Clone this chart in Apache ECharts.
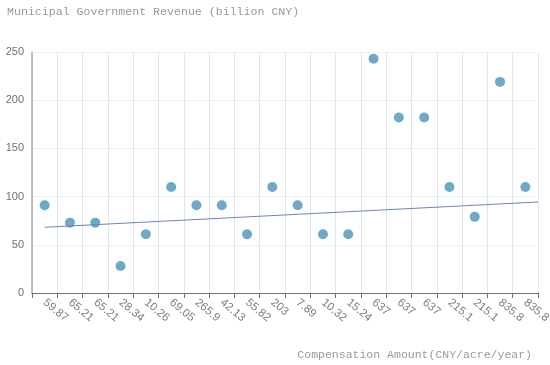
<!DOCTYPE html>
<html><head><meta charset="utf-8">
<script src="https://cdn.jsdelivr.net/npm/echarts@6/dist/echarts.min.js"></script>
<style>html,body{margin:0;padding:0;background:#fff}#c{width:550px;height:365px}</style>
</head><body><div id="c"></div>
<script>
const categories = ['59.87','65.21','65.21','28.34','10.26','69.05','265.9','42.13','55.82','203','7.89','10.32','15.24','637','637','637','215.1','215.1','835.8','835.8'];
const revenue = [91,73,73,28,61,110,91,91,61,110,91,61,61,243,182,182,110,79,219,110];
const trendX = [0, 19.5];
const trendY = [68.2, 94.4];
const yTicks = {min:0, max:250, interval:50};

const chart = echarts.init(document.getElementById('c'), null, {renderer:'canvas'});
chart.setOption({
  animation:false,
  title:{text:'Municipal Government Revenue (billion CNY)', left:2, top:1,
    textStyle:{fontFamily:'Liberation Mono', fontSize:11.6, fontWeight:'normal', color:'#999'}},
  grid:{left:32, right:12, top:52, bottom:72, outerBoundsMode:'none', containLabel:false},
  xAxis:[{
    type:'category', data:categories, boundaryGap:true,
    name:'Compensation Amount(CNY/acre/year)', nameLocation:'end',
    nameTextStyle:{fontFamily:'Liberation Mono', fontSize:11.5, color:'#999', align:'right', verticalAlign:'top', padding:[56,0,0,0]},
    nameGap:-6,
    axisLine:{lineStyle:{color:'#6e7079'}},
    axisTick:{show:true, alignWithLabel:false, lineStyle:{color:'#6e7079'}},
    axisLabel:{rotate:-40, color:'#7a7c85', fontSize:11.5, interval:0, margin:8},
    splitLine:{show:true, lineStyle:{color:'#e0e6f1'}}
  },{
    type:'value', min:-0.5, max:19.5, show:false
  }],
  yAxis:{type:'value', min:yTicks.min, max:yTicks.max, interval:yTicks.interval,
    axisLine:{show:true, onZero:false, lineStyle:{color:'#aaa', width:1.5}},
    axisTick:{show:false},
    axisLabel:{color:'#6e7079', fontSize:11, margin:8},
    splitLine:{lineStyle:{color:'#eef1f6'}}
  },
  series:[
    {type:'scatter', data:revenue, symbolSize:10, itemStyle:{color:'#4a93b8'}},
    {type:'line', xAxisIndex:1, data:trendX.map((x,i)=>[x,trendY[i]]), symbol:'none',
      lineStyle:{color:'#6d80c6', width:1}}
  ]
});
</script></body></html>
